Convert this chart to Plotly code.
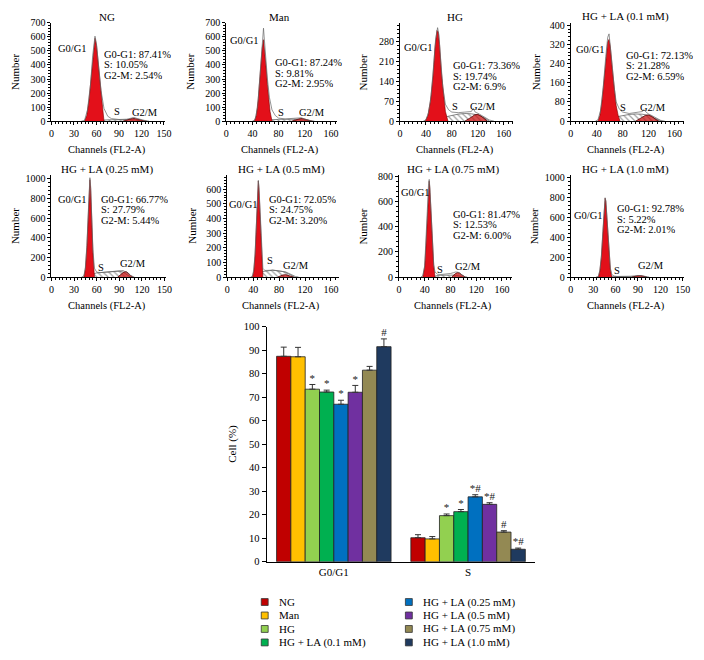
import plotly.graph_objects as go

W, H = 704, 660
FONT = "Liberation Serif"
OFF = 8  # page body margin the browser adds around the figure

# ---------------- data ----------------
GROUPS = ["NG", "Man", "HG", "HG + LA (0.1 mM)", "HG + LA (0.25 mM)",
          "HG + LA (0.5 mM)", "HG + LA (0.75 mM)", "HG + LA (1.0 mM)"]
COLORS = ["#C00000", "#FFC000", "#92D050", "#00B050", "#0070C0",
          "#7030A0", "#938953", "#1F3A5F"]
G0G1_PCT = ["87.41%", "87.24%", "73.36%", "72.13%", "66.77%", "72.05%", "81.47%", "92.78%"]
S_PCT = ["10.05%", "9.81%", "19.74%", "21.28%", "27.79%", "24.75%", "12.53%", "5.22%"]
G2M_PCT = ["2.54%", "2.95%", "6.9%", "6.59%", "5.44%", "3.20%", "6.00%", "2.01%"]

PHASES = ["G0/G1", "S"]
BAR_G0G1 = [87.4, 87.2, 73.4, 72.2, 67.0, 72.1, 81.5, 91.5]
ERR_G0G1 = [3.9, 4.0, 2.0, 0.8, 1.7, 2.9, 1.6, 3.3]
BAR_S = [10.2, 9.7, 19.6, 21.3, 27.6, 24.4, 12.6, 5.3]
ERR_S = [1.3, 1.0, 0.7, 0.9, 0.9, 0.7, 0.6, 0.5]
SIG_G0G1 = ["", "", "*", "*", "*", "*", "", "#"]
SIG_S = ["", "", "*", "*", "*#", "*#", "#", "*#"]

# histogram envelopes (channel, count) and fitted components
ng_hx = [40, 44, 48, 52, 55, 57, 58, 60, 63, 66, 70, 75, 80, 90, 100, 105, 110, 115, 120, 125, 130]
ng_hy = [0, 5, 80, 260, 470, 590, 605, 550, 380, 220, 90, 35, 18, 12, 14, 22, 26, 18, 10, 4, 0]
ng_g1x = [44, 47, 50, 53, 55, 57, 58, 60, 62, 64, 66, 68, 70]
ng_g1y = [0, 40, 150, 330, 470, 570, 590, 540, 430, 300, 180, 80, 0]
ng_sx = [62, 70, 80, 90, 100, 110, 115, 120]
ng_sy = [0, 8, 10, 11, 12, 11, 6, 0]
ng_g2x = [95, 100, 105, 108, 112, 117, 122, 127]
ng_g2y = [0, 6, 15, 20, 18, 10, 4, 0]

man_hx = [40, 44, 48, 52, 55, 57, 58, 60, 63, 66, 70, 75, 80, 90, 100, 110, 115, 120, 125, 130, 135]
man_hy = [0, 10, 100, 330, 560, 662, 600, 450, 300, 170, 80, 40, 22, 16, 18, 22, 24, 15, 8, 3, 0]
man_g1x = [43, 46, 49, 52, 55, 57, 59, 61, 63, 65, 67, 70]
man_g1y = [0, 40, 160, 350, 520, 580, 500, 380, 260, 150, 70, 0]
man_sx = [60, 70, 80, 90, 100, 110, 118, 125]
man_sy = [0, 10, 13, 14, 15, 14, 8, 0]
man_g2x = [100, 105, 110, 114, 118, 122, 128, 132]
man_g2y = [0, 8, 16, 20, 17, 10, 4, 0]

hg_hx = [36, 40, 44, 48, 52, 55, 58, 60, 63, 66, 70, 75, 80, 90, 100, 110, 113, 116, 120, 126, 132, 138, 145]
hg_hy = [0, 5, 30, 90, 200, 290, 330, 305, 210, 120, 60, 40, 32, 30, 32, 34, 45, 32, 28, 20, 10, 4, 0]
hg_g1x = [39, 43, 47, 51, 54, 57, 59, 61, 64, 67, 70, 74]
hg_g1y = [0, 20, 70, 160, 260, 320, 315, 270, 170, 90, 35, 0]
hg_sx = [55, 60, 70, 80, 90, 100, 110, 120, 130, 138]
hg_sy = [0, 6, 15, 21, 25, 27, 26, 22, 12, 0]
hg_g2x = [100, 105, 110, 115, 120, 125, 130, 135]
hg_g2y = [0, 6, 14, 22, 24, 18, 8, 0]

la01_hx = [38, 42, 46, 50, 54, 57, 59, 61, 64, 67, 70, 75, 80, 90, 100, 105, 110, 113, 116, 120, 126, 132, 138, 145]
la01_hy = [0, 6, 45, 140, 270, 350, 364, 320, 230, 140, 80, 50, 38, 32, 34, 38, 40, 48, 38, 30, 22, 12, 4, 0]
la01_g1x = [42, 45, 48, 51, 54, 57, 59, 61, 64, 67, 70, 73, 76]
la01_g1y = [0, 25, 80, 170, 260, 330, 341, 310, 220, 130, 65, 25, 0]
la01_sx = [55, 60, 70, 80, 90, 100, 110, 120, 130, 140]
la01_sy = [0, 8, 18, 24, 28, 30, 29, 24, 12, 0]
la01_g2x = [100, 105, 110, 115, 120, 125, 130, 136]
la01_g2y = [0, 8, 16, 24, 26, 20, 9, 0]

la025_hx = [40, 43, 45, 47, 49, 50, 51, 52, 53, 55, 57, 60, 65, 70, 75, 80, 85, 90, 95, 100, 105, 110]
la025_hy = [0, 10, 100, 320, 680, 900, 1010, 920, 680, 280, 90, 50, 45, 48, 52, 60, 58, 62, 66, 45, 15, 0]
la025_g1x = [43, 45, 47, 49, 50, 51, 52, 53, 55, 57]
la025_g1y = [0, 80, 300, 650, 880, 990, 900, 650, 250, 0]
la025_sx = [50, 55, 60, 65, 70, 75, 80, 85, 90, 95, 100, 105]
la025_sy = [0, 30, 42, 45, 48, 52, 58, 56, 60, 50, 25, 0]
la025_g2x = [88, 92, 96, 99, 102, 105, 108]
la025_g2y = [0, 25, 50, 55, 40, 15, 0]

la05_hx = [36, 39, 41, 43, 45, 47, 48, 49, 51, 53, 55, 58, 62, 66, 70, 75, 80, 85, 90, 95, 100, 105, 110]
la05_hy = [0, 8, 50, 160, 360, 590, 660, 610, 390, 160, 60, 45, 44, 46, 48, 45, 42, 40, 35, 25, 12, 4, 0]
la05_g1x = [39, 41, 43, 45, 47, 48, 49, 51, 53, 55]
la05_g1y = [0, 40, 150, 350, 580, 656, 600, 380, 150, 0]
la05_sx = [45, 50, 55, 60, 65, 70, 75, 80, 85, 90, 95, 100, 104]
la05_sy = [0, 25, 38, 42, 45, 46, 44, 42, 38, 32, 20, 8, 0]
la05_g2x = [78, 82, 86, 90, 94, 98, 102]
la05_g2y = [0, 8, 14, 16, 12, 5, 0]

la075_hx = [34, 37, 40, 42, 44, 46, 47, 48, 50, 52, 54, 56, 60, 65, 70, 75, 80, 85, 88, 92, 95, 98, 102, 106]
la075_hy = [0, 10, 90, 260, 520, 740, 775, 710, 490, 260, 100, 40, 22, 20, 22, 25, 28, 35, 40, 38, 30, 15, 4, 0]
la075_g1x = [37, 40, 42, 44, 46, 47, 48, 50, 52, 54, 56]
la075_g1y = [0, 80, 250, 500, 720, 761, 700, 480, 250, 90, 0]
la075_sx = [52, 56, 60, 65, 70, 75, 80, 85, 90, 95, 100]
la075_sy = [0, 8, 12, 14, 15, 16, 16, 15, 12, 6, 0]
la075_g2x = [82, 85, 88, 91, 94, 97, 100, 103]
la075_g2y = [0, 15, 28, 35, 32, 20, 8, 0]

la10_hx = [34, 37, 39, 41, 43, 45, 46, 47, 49, 51, 53, 55, 58, 62, 66, 70, 75, 80, 85, 90, 95, 100, 105]
la10_hy = [0, 8, 70, 210, 460, 730, 800, 770, 560, 290, 90, 25, 10, 6, 5, 5, 6, 8, 12, 16, 12, 5, 0]
la10_g1x = [37, 39, 41, 43, 45, 46, 47, 49, 51, 53, 55]
la10_g1y = [0, 60, 200, 450, 720, 794, 760, 550, 280, 80, 0]
la10_sx = [50, 55, 60, 70, 80, 90, 100]
la10_sy = [0, 4, 5, 5, 5, 4, 0]
la10_g2x = [82, 86, 90, 94, 98, 102]
la10_g2y = [0, 8, 14, 14, 7, 0]

HIST = [
    (ng_hx, ng_hy, ng_g1x, ng_g1y, ng_sx, ng_sy, ng_g2x, ng_g2y),
    (man_hx, man_hy, man_g1x, man_g1y, man_sx, man_sy, man_g2x, man_g2y),
    (hg_hx, hg_hy, hg_g1x, hg_g1y, hg_sx, hg_sy, hg_g2x, hg_g2y),
    (la01_hx, la01_hy, la01_g1x, la01_g1y, la01_sx, la01_sy, la01_g2x, la01_g2y),
    (la025_hx, la025_hy, la025_g1x, la025_g1y, la025_sx, la025_sy, la025_g2x, la025_g2y),
    (la05_hx, la05_hy, la05_g1x, la05_g1y, la05_sx, la05_sy, la05_g2x, la05_g2y),
    (la075_hx, la075_hy, la075_g1x, la075_g1y, la075_sx, la075_sy, la075_g2x, la075_g2y),
    (la10_hx, la10_hy, la10_g1x, la10_g1y, la10_sx, la10_sy, la10_g2x, la10_g2y),
]


# ---------------- layout (pixel geometry of the page) ----------------
def px_x(p):
    return (p - OFF) / W


def px_y(p):
    return 1 - (p - OFF) / H


PANELS = [
    dict(xl=49, xr=164.5, yb=118, yt=18, xmax=152, ymax=700, dx=30, dy=100,
         g0=(7, 523), st=(69, 480), s=(87, 75), g2=(106, 62), num=12),
    dict(xl=226, xr=338, yb=118, yt=18, xmax=169, ymax=700, dx=40, dy=100,
         g0=(4, 575), st=(73, 420), s=(83, 65), g2=(109, 65), num=189),
    dict(xl=402, xr=517, yb=118, yt=18, xmax=175, ymax=347, dx=40, dy=70,
         g0=(5, 260), st=(80, 197), s=(85, 54), g2=(106.5, 55), num=365),
    dict(xl=575, xr=690, yb=118, yt=18, xmax=175, ymax=410, dx=40, dy=80,
         g0=(6, 300), st=(84, 277), s=(81, 59), g2=(105.5, 59), num=540),
    dict(xl=49, xr=165, yb=276.5, yt=173, xmax=152, ymax=1035, dx=30, dy=200,
         g0=(7, 794), st=(64, 794), s=(66, 100), g2=(89, 140), num=12),
    dict(xl=227, xr=340, yb=276.5, yt=173, xmax=172, ymax=695, dx=40, dy=100,
         g0=(1, 500), st=(63, 534), s=(66, 119), g2=(84, 80), num=191),
    dict(xl=401, xr=515, yb=276.5, yt=173, xmax=175, ymax=808, dx=40, dy=200,
         g0=(1.5, 672), st=(83, 502), s=(64, 65), g2=(85, 90), num=365),
    dict(xl=575, xr=690, yb=276.5, yt=173, xmax=152, ymax=1027, dx=30, dy=200,
         g0=(3.5, 629), st=(61, 694), s=(62, 73), g2=(89, 120), num=538),
]

fig = go.Figure()
annotations = []
shapes = []
layout = {}

TICKFONT = dict(family=FONT, size=10, color="black")
TXT = dict(family=FONT, size=10.5, color="black")
RED = "#E3101A"

for i, (p, h) in enumerate(zip(PANELS, HIST)):
    n = i + 1
    xa, ya = f"x{n}", f"y{n}"
    hx, hy, g1x, g1y, sx, sy, g2x, g2y = h
    fig.add_trace(go.Scatter(x=sx, y=sy, xaxis=xa, yaxis=ya, mode="lines",
                             fill="tozeroy", line=dict(color="#555555", width=0.7),
                             fillcolor="white",
                             fillpattern=dict(shape="\\", fgcolor="#444444", bgcolor="white",
                                              size=4, solidity=0.3),
                             showlegend=False, hoverinfo="skip"))
    fig.add_trace(go.Scatter(x=g2x, y=g2y, xaxis=xa, yaxis=ya, mode="lines",
                             fill="tozeroy", line=dict(color="#5a0000", width=0.8),
                             fillcolor="rgba(200,20,20,0.75)",
                             showlegend=False, hoverinfo="skip"))
    fig.add_trace(go.Scatter(x=g1x, y=g1y, xaxis=xa, yaxis=ya, mode="lines",
                             fill="tozeroy", line=dict(color="#7a0000", width=0.6),
                             fillcolor=RED, showlegend=False, hoverinfo="skip"))
    fig.add_trace(go.Scatter(x=hx, y=hy, xaxis=xa, yaxis=ya, mode="lines",
                             line=dict(color="#666666", width=0.7),
                             showlegend=False, hoverinfo="skip"))

    key = "" if n == 1 else str(n)
    layout[f"xaxis{key}"] = dict(
        domain=[px_x(p["xl"]), px_x(p["xr"])], range=[0, p["xmax"]], anchor=ya,
        dtick=p["dx"], tick0=0, ticks="outside", ticklen=3, tickwidth=1, tickcolor="black",
        showline=True, linecolor="black", linewidth=1, showgrid=False, zeroline=False,
        tickfont=TICKFONT, fixedrange=True,
        minor=dict(ticks="outside", ticklen=2, tickwidth=1, tickcolor="black", dtick=p["dx"] / 6),
    )
    layout[f"yaxis{key}"] = dict(
        domain=[px_y(p["yb"]), px_y(p["yt"])], range=[0, p["ymax"]], anchor=xa,
        dtick=p["dy"], tick0=0, ticks="outside", ticklen=3, tickwidth=1, tickcolor="black",
        showline=True, linecolor="black", linewidth=1, showgrid=False, zeroline=False,
        tickfont=TICKFONT, fixedrange=True,
        minor=dict(ticks="outside", ticklen=2, tickwidth=1, tickcolor="black", dtick=p["dy"] / 5),
    )
    annotations.append(dict(x=p["g0"][0], y=p["g0"][1], xref=xa, yref=ya, text="G0/G1",
                            showarrow=False, xanchor="left", yanchor="middle", font=TXT,
                            height=10, borderpad=0))
    stats = [f"G0-G1: {G0G1_PCT[i]}", f"S: {S_PCT[i]}", f"G2-M: {G2M_PCT[i]}"]
    for k, s in enumerate(stats):
        annotations.append(dict(x=p["st"][0], y=p["st"][1], xref=xa, yref=ya, text=s,
                                showarrow=False, xanchor="left", yanchor="middle",
                                yshift=-10.5 * k, font=TXT, height=10, borderpad=0))
    annotations.append(dict(x=p["s"][0], y=p["s"][1], xref=xa, yref=ya, text="S",
                            showarrow=False, xanchor="center", yanchor="middle", font=TXT,
                            height=10, borderpad=0))
    annotations.append(dict(x=p["g2"][0], y=p["g2"][1], xref=xa, yref=ya, text="G2/M",
                            showarrow=False, xanchor="left", yanchor="middle", font=TXT,
                            height=10, borderpad=0))
    cx = (p["xl"] + p["xr"]) / 2 - 2
    annotations.append(dict(x=px_x(cx), y=px_y(p["yt"] - 6), xref="paper", yref="paper",
                            text=GROUPS[i], showarrow=False, xanchor="center", yanchor="middle",
                            font=dict(family=FONT, size=11, color="black")))
    annotations.append(dict(x=px_x(cx), y=px_y(p["yb"] + 29), xref="paper", yref="paper",
                            text="Channels (FL2-A)", showarrow=False, xanchor="center",
                            yanchor="middle", font=dict(family=FONT, size=10.5, color="black")))
    annotations.append(dict(x=px_x(p["num"]), y=px_y((p["yb"] + p["yt"]) / 2), xref="paper",
                            yref="paper", text="Number", textangle=-90, showarrow=False,
                            xanchor="center", yanchor="middle",
                            font=dict(family=FONT, size=11, color="black")))

# ---------------- bar chart ----------------
BW = 0.1066
for j, g in enumerate(GROUPS):
    xs = [k + (j - 3.5) * BW for k in range(len(PHASES))]
    vals = [BAR_G0G1[j], BAR_S[j]]
    errs = [ERR_G0G1[j], ERR_S[j]]
    fig.add_trace(go.Bar(x=xs, y=vals, width=BW, xaxis="x9", yaxis="y9",
                         marker=dict(color=COLORS[j], line=dict(color="#222222", width=0.8)),
                         error_y=dict(type="data", array=errs, arrayminus=[0, 0], symmetric=False,
                                      color="#333333", thickness=1, width=3),
                         showlegend=False, hoverinfo="skip"))
    sigs = [SIG_G0G1[j], SIG_S[j]]
    tops = [v + e for v, e in zip(vals, errs)]
    fig.add_trace(go.Scatter(x=xs, y=tops, text=sigs, mode="text", textposition="top center",
                             textfont=dict(family=FONT, size=11, color="#222222"),
                             xaxis="x9", yaxis="y9", showlegend=False, hoverinfo="skip"))

layout["xaxis9"] = dict(domain=[px_x(267), px_x(539)], range=[-0.5, 1.5], anchor="y9",
                        tickvals=list(range(len(PHASES))), ticktext=PHASES, ticks="",
                        showline=True, linecolor="black", linewidth=1, showgrid=False,
                        zeroline=False, tickfont=dict(family=FONT, size=11, color="black"),
                        fixedrange=True)
layout["yaxis9"] = dict(domain=[px_y(566), px_y(327)], range=[0, 100], anchor="x9", dtick=10,
                        ticks="outside", ticklen=4, tickcolor="black", showline=True,
                        linecolor="black", linewidth=1, showgrid=False, zeroline=False,
                        tickfont=dict(family=FONT, size=10.5, color="black"), fixedrange=True)
annotations.append(dict(x=px_x(233), y=px_y(446), xref="paper", yref="paper", text="Cell (%)",
                        textangle=-90, showarrow=False, xanchor="center", yanchor="middle",
                        font=dict(family=FONT, size=11, color="black")))

# legend (manual, column-major)
for j, g in enumerate(GROUPS):
    col, row = divmod(j, 4)
    cx = 265 + col * 146
    cy = 607 + row * 13.7
    shapes.append(dict(type="rect", xref="paper", yref="paper",
                       x0=px_x(cx - 3.5), x1=px_x(cx + 3.5), y0=px_y(cy + 3.5), y1=px_y(cy - 3.5),
                       fillcolor=COLORS[j], line=dict(color="#333333", width=0.8)))
    annotations.append(dict(x=px_x(cx + 12), y=px_y(cy), xref="paper", yref="paper", text=g,
                            showarrow=False, xanchor="left", yanchor="middle",
                            font=dict(family=FONT, size=11, color="black")))

fig.update_layout(
    width=W, height=H, margin=dict(l=0, r=0, t=0, b=0),
    paper_bgcolor="white", plot_bgcolor="white",
    annotations=annotations, shapes=shapes, showlegend=False,
    barmode="overlay", **layout,
)

fig.write_html("out.html")
